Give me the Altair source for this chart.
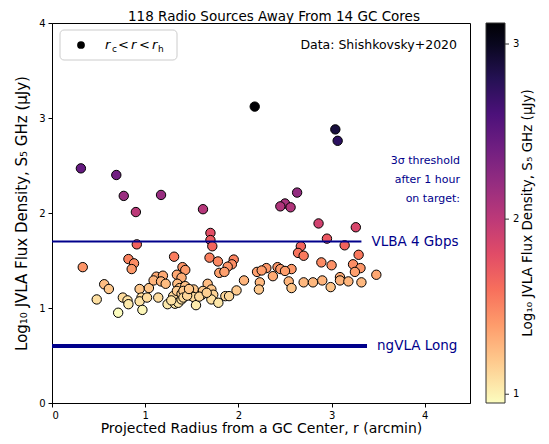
import altair as alt
import pandas as pd

# ---- data ----
radius = [0.31, 0.69, 0.77, 0.90, 1.17, 1.62, 1.70, 2.175, 3.04, 3.065, 2.63, 2.50, 2.45, 2.56, 2.86, 3.26,
          0.91, 1.70, 1.72, 2.95, 2.67, 3.14,
          0.33, 0.82, 0.88, 0.855, 1.31, 1.40, 1.43, 1.69, 1.78, 1.95, 1.93, 1.885, 2.64, 2.70, 3.29, 2.89,
          3.00, 3.23, 3.31, 2.30, 2.42, 2.45, 2.57,
          1.795, 1.85, 2.20, 2.25, 2.50, 2.37, 3.25, 3.48, 3.09, 1.12, 1.19, 1.34, 1.39,
          0.56, 0.61, 0.94, 1.04, 1.09, 1.17, 1.22, 1.345, 1.37, 1.43, 1.52, 1.67, 1.71, 1.98, 2.06, 2.23,
          2.22, 2.54, 2.57, 2.70, 2.80, 2.90, 2.99, 3.09, 3.18, 3.32,
          0.48, 0.76, 0.81, 0.82, 0.96, 0.94, 1.02, 1.14, 1.24, 1.30, 1.32, 1.355, 1.39, 1.34, 1.39, 1.41,
          1.41, 1.50, 1.52, 1.545, 1.61, 1.62, 1.73, 1.71, 1.785, 1.86, 1.90,
          0.71, 0.97,
          1.45, 1.28, 1.58, 1.47, 1.66]
flux = [2.47, 2.40, 2.18, 2.01, 2.19, 2.04, 1.79, 3.12, 2.88, 2.76, 2.215, 2.10, 2.07, 2.06, 1.89, 1.85,
        1.67, 1.715, 1.65, 1.73, 1.65, 1.66,
        1.43, 1.515, 1.47, 1.41, 1.54, 1.43, 1.40, 1.53, 1.49, 1.51, 1.46, 1.435, 1.58, 1.55, 1.56, 1.48,
        1.45, 1.46, 1.42, 1.42, 1.43, 1.41, 1.41,
        1.37, 1.38, 1.38, 1.395, 1.39, 1.335, 1.38, 1.35, 1.325, 1.33, 1.34, 1.35, 1.32,
        1.25, 1.20, 1.20, 1.21, 1.29, 1.28, 1.255, 1.255, 1.21, 1.23, 1.195, 1.255, 1.195, 1.185, 1.29, 1.27,
        1.195, 1.28, 1.21, 1.27, 1.27, 1.29, 1.22, 1.29, 1.28, 1.27,
        1.09, 1.11, 1.08, 1.04, 1.11, 1.07, 1.11, 1.11, 1.04, 1.125, 1.045, 1.055, 1.09, 1.18, 1.15, 1.18,
        1.11, 1.125, 1.115, 1.03, 1.14, 1.18, 1.14, 1.09, 1.055, 1.125, 1.125,
        0.95, 0.98,
        1.13, 1.08, 1.12, 1.20, 1.16]

threshold_names = ["VLBA 4 Gbps", "ngVLA Long"]
threshold_values = [1.70, 0.60]
threshold_xend = [3.32, 3.38]

colorbar_ticks = [1, 2, 3]

df = pd.DataFrame({"r": radius, "s": flux})
fmin, fmax = min(flux), max(flux)

FONT = "DejaVu Sans"
NAVY = "#00008b"
W, H = 418, 380

xscale = alt.Scale(domain=[0, 4.485], nice=False, zero=False)
yscale = alt.Scale(domain=[0, 4], nice=False, zero=False)

pts = alt.Chart(df).mark_circle(size=88, stroke="black", strokeWidth=1, opacity=1).encode(
    x=alt.X("r:Q", scale=xscale,
            axis=alt.Axis(values=[0, 1, 2, 3, 4], title="Projected Radius from a GC Center, r (arcmin)",
                          format="d")),
    y=alt.Y("s:Q", scale=yscale,
            axis=alt.Axis(values=[0, 1, 2, 3, 4], title="Log₁₀ JVLA Flux Density, S₅ GHz (μJy)",
                          format="d", titleFontSize=15)),
    color=alt.Color("s:Q",
                    scale=alt.Scale(scheme="magma", reverse=True, domain=[fmin, fmax]),
                    legend=alt.Legend(title=None,
                                      values=colorbar_ticks, format="d",
                                      orient="right", offset=16, padding=0,
                                      gradientLength=H, gradientThickness=19,
                                      gradientStrokeColor="#333333", gradientStrokeWidth=1,
                                      labelFontSize=10, labelOffset=8, labelOverlap=False,
                                      labelColor="black")),
)

thr = pd.DataFrame({"name": threshold_names, "y": threshold_values, "x0": [0, 0], "x1": threshold_xend})

def yenc(field):
    return alt.Y(field, scale=yscale, axis=None)

def xenc(field):
    return alt.X(field, scale=xscale)

rule_vlba = alt.Chart(thr.iloc[[0]]).mark_rule(color=NAVY, strokeWidth=2).encode(
    x=xenc("x0:Q"), x2="x1:Q", y=yenc("y:Q"))
rule_ng = alt.Chart(thr.iloc[[1]]).mark_rule(color=NAVY, strokeWidth=4).encode(
    x=xenc("x0:Q"), x2="x1:Q", y=yenc("y:Q"))

lab_vlba = alt.Chart(thr.iloc[[0]]).mark_text(align="left", baseline="middle", dx=10, fontSize=13.5,
                                              font=FONT, color=NAVY).encode(
    x=xenc("x1:Q"), y=yenc("y:Q"), text="name:N")
lab_ng = alt.Chart(thr.iloc[[1]]).mark_text(align="left", baseline="middle", dx=10, fontSize=13.5,
                                            font=FONT, color=NAVY).encode(
    x=xenc("x1:Q"), y=yenc("y:Q"), text="name:N")

note = alt.Chart(pd.DataFrame({"t": [["3σ threshold", "after 1 hour", "on target:"]]})).mark_text(
    align="right", baseline="middle", fontSize=11, font=FONT, color=NAVY, lineHeight=19
).encode(x=alt.value(408), y=alt.value(138), text="t")

credit = alt.Chart(pd.DataFrame({"t": ["Data: Shishkovsky+2020"]})).mark_text(
    align="right", baseline="middle", fontSize=12.5, font=FONT, color="black"
).encode(x=alt.value(405), y=alt.value(22), text="t:N")

title = alt.Chart(pd.DataFrame({"t": ["118 Radio Sources Away From 14 GC Cores"]})).mark_text(
    align="center", baseline="alphabetic", fontSize=13.5, font=FONT, color="black"
).encode(x=alt.value(222), y=alt.value(-2), text="t:N")

cbar_title = alt.Chart(pd.DataFrame({"t": ["Log₁₀ JVLA Flux Density, S₅ GHz (μJy)"]})).mark_text(
    align="center", baseline="middle", angle=270, fontSize=13.5, font=FONT, color="black"
).encode(x=alt.value(476), y=alt.value(H / 2), text="t:N")

# colorbar tick marks, placed with their own scale matching the gradient
cbar_ticks = alt.Chart(pd.DataFrame({"v": colorbar_ticks})).mark_rule(color="#333333", strokeWidth=1).encode(
    x=alt.value(W + 16 + 19), x2=alt.value(W + 16 + 19 + 4),
    y=alt.Y("v:Q", scale=alt.Scale(domain=[fmin, fmax], nice=False, zero=False), axis=None))

# legend box for the marker
box = alt.Chart(pd.DataFrame({"a": [0]})).mark_rect(
    fill="white", stroke="#cccccc", strokeWidth=1, cornerRadius=4
).encode(x=alt.value(8), x2=alt.value(125), y=alt.value(7), y2=alt.value(37))
dot = alt.Chart(pd.DataFrame({"a": [0]})).mark_circle(size=60, color="black", opacity=1).encode(
    x=alt.value(29), y=alt.value(22))

pieces = [
    ("r", 53, 22, 13, "italic"),
    ("c", 60, 26, 9, "normal"),
    ("<", 66, 22, 13, "normal"),
    ("r", 79, 22, 13, "italic"),
    ("<", 87, 22, 13, "normal"),
    ("r", 100, 22, 13, "italic"),
    ("h", 106, 26, 9, "normal"),
]
legend_text = []
for t, px, py, fs, st in pieces:
    legend_text.append(
        alt.Chart(pd.DataFrame({"t": [t]})).mark_text(
            align="left", baseline="middle", fontSize=fs, fontStyle=st, font=FONT, color="black"
        ).encode(x=alt.value(px), y=alt.value(py), text="t:N")
    )

chart = alt.layer(
    pts, rule_ng, rule_vlba, lab_vlba, lab_ng, note, credit, title, cbar_title, cbar_ticks, box, dot,
    *legend_text
).resolve_scale(y="independent").properties(
    width=W, height=H,
    autosize=alt.AutoSizeParams(type="none"),
    padding={"left": 44, "top": 15, "right": 70, "bottom": 33},
).configure(font=FONT).configure_view(
    stroke="black", strokeWidth=1
).configure_axis(
    grid=False, domainColor="black", tickColor="black", labelColor="black", titleColor="black",
    tickSize=4, labelFontSize=10, titleFontSize=14, titleFontWeight="normal", labelFont=FONT,
    titleFont=FONT, labelPadding=3
).configure_axisX(titlePadding=1).configure_axisY(titlePadding=9)

chart.save("out.html", embed_options={"renderer": "svg", "actions": False})
